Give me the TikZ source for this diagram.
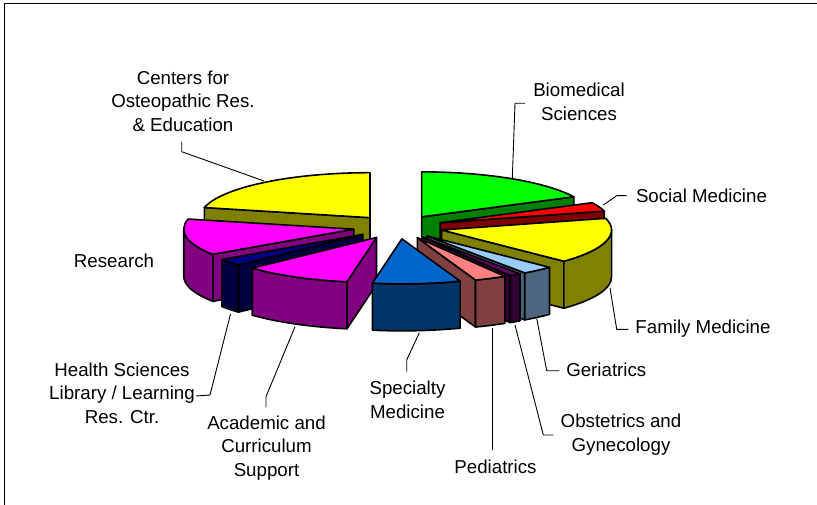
\documentclass[tikz,border=0pt]{standalone}
\usepackage{fontspec}
\setmainfont{Liberation Sans}
\definecolor{bioT}{HTML}{00FF00}\definecolor{bioS}{HTML}{008000}
\definecolor{socT}{HTML}{FF0000}\definecolor{socS}{HTML}{800000}
\definecolor{famT}{HTML}{FFFF00}\definecolor{famS}{HTML}{808000}
\definecolor{gerT}{HTML}{99CCFF}\definecolor{gerS}{HTML}{4C6680}
\definecolor{obsT}{HTML}{660066}\definecolor{obsS}{HTML}{330033}
\definecolor{pedT}{HTML}{FF8080}\definecolor{pedS}{HTML}{804040}
\definecolor{speT}{HTML}{0066CC}\definecolor{speS}{HTML}{003366}
\definecolor{acaT}{HTML}{FF00FF}\definecolor{acaS}{HTML}{800080}
\definecolor{libT}{HTML}{000080}\definecolor{libS}{HTML}{000040}
\definecolor{resT}{HTML}{FF00FF}\definecolor{resS}{HTML}{800080}
\definecolor{cenT}{HTML}{FFFF00}\definecolor{cenS}{HTML}{808000}
\def\pieR{170}\def\pier{45}\def\pieh{47}\def\piee{45}
\def\piecx{398}\def\piecy{-227}
\newcommand\setslice[2]{%
  \pgfmathsetmacro\smid{(#1+#2)/2}%
  \pgfmathsetmacro\pox{\piecx+\piee*cos(\smid)}%
  \pgfmathsetmacro\poy{\piecy+\piee*\pier/\pieR*sin(\smid)}}
\newcommand\topface[3]{%
  \filldraw[face,fill=#3] (\pox,\poy) -- ({\pox+\pieR*cos(#1)},{\poy+\pier*sin(#1)})
    arc[start angle=#1,end angle=#2,x radius=\pieR,y radius=\pier] -- cycle;}
\newcommand\sideface[3]{%
  \filldraw[face,fill=#3] ({\pox+\pieR*cos(#1)},{\poy+\pier*sin(#1)})
    arc[start angle=#1,end angle=#2,x radius=\pieR,y radius=\pier] -- ++(0,-\pieh)
    arc[start angle=#2,end angle=#1,x radius=\pieR,y radius=\pier] -- cycle;}
\newcommand\cutface[2]{%
  \filldraw[face,fill=#2] (\pox,\poy) -- ({\pox+\pieR*cos(#1)},{\poy+\pier*sin(#1)})
    -- ++(0,-\pieh) -- ({\pox},{\poy-\pieh}) -- cycle;}
\begin{document}
\begin{tikzpicture}[x=1pt,y=1pt,line join=round,
  face/.style={draw=black,line width=1.6pt},
  lbl/.style={font=\fontsize{18.7}{23.5}\selectfont,align=center,inner sep=0pt},
  lead/.style={draw=black,line width=0.9pt}]
\useasboundingbox (0,0) rectangle (817,-505);
\fill[white] (0,0) rectangle (817,-505);
\draw[line width=1pt] (4,-505) -- (4,-3.5) -- (817,-3.5);
% slices, back to front
\setslice{26.5}{90}\cutface{26.5}{bioS}\topface{26.5}{90}{bioT}
\setslice{90}{167}\cutface{167}{cenS}\topface{90}{167}{cenT}
\setslice{15}{26.5}\cutface{15}{socS}\topface{15}{26.5}{socT}
\setslice{-193}{-146}\cutface{-146}{resS}\sideface{-180}{-146}{resS}\topface{-193}{-146}{resT}
\setslice{-44}{15}\cutface{-44}{famS}\sideface{-44}{0}{famS}\topface{-44}{15}{famT}
\setslice{-146}{-137}\cutface{-137}{libS}\sideface{-146}{-137}{libS}\topface{-146}{-137}{libT}
\setslice{-55}{-44}\cutface{-55}{gerS}\sideface{-55}{-44}{gerS}\topface{-55}{-44}{gerT}
\setslice{-59}{-55}\cutface{-59}{obsS}\sideface{-59}{-55}{obsS}\topface{-59}{-55}{obsT}
\setslice{-137}{-100}\cutface{-100}{acaS}\sideface{-137}{-100}{acaS}\topface{-137}{-100}{acaT}
\setslice{-70}{-59}\cutface{-70}{pedS}\sideface{-70}{-59}{pedS}\topface{-70}{-59}{pedT}
\setslice{-100}{-70}\sideface{-100}{-70}{speS}\topface{-100}{-70}{speT}
% labels
\node[lbl] (cen) at (183,-101) {Centers for\\Osteopathic Res.\\\& Education};
\node[lbl] (bio) at (579,-102) {Biomedical\\Sciences};
\node[lbl] (soc) at (701.5,-195.7) {Social Medicine};
\node[lbl] (fam) at (703,-328.3) {Family Medicine};
\node[lbl] (ger) at (606.3,-370) {Geriatrics};
\node[lbl] (obs) at (621,-434.7) {Obstetrics and\\Gynecology};
\node[lbl] (ped) at (495.5,-466.7) {Pediatrics};
\node[lbl] (spe) at (407.5,-400) {Specialty\\Medicine};
\node[lbl] (aca) at (266.5,-448) {Academic and\\Curriculum\\Support};
\node[lbl] (lib) at (122,-393) {Health Sciences\\Library / Learning\\Res. Ctr.};
\node[lbl] (res) at (114,-261) {Research};
% leader ends
\coordinate (cen1) at (181.7,-141.7); \coordinate (cen2) at (181.7,-151.7); \coordinate (cenE) at (264,-181);
\coordinate (bio1) at (525,-103.3); \coordinate (bio2) at (515,-103.3); \coordinate (bioE) at (512.3,-178.5);
\coordinate (soc1) at (626.7,-195.7); \coordinate (soc2) at (616.7,-195.7); \coordinate (socE) at (603.3,-205);
\coordinate (fam1) at (628.3,-329.3); \coordinate (fam2) at (616.7,-329.3); \coordinate (famE) at (610,-288);
\coordinate (ger1) at (559.3,-370.7); \coordinate (ger2) at (546.7,-370.7); \coordinate (gerE) at (536.7,-318.3);
\coordinate (obs1) at (553.3,-435); \coordinate (obs2) at (543.3,-435); \coordinate (obsE) at (515,-325);
\coordinate (ped1) at (492.5,-450); \coordinate (pedE) at (492.5,-328);
\coordinate (spe1) at (406.7,-371.7); \coordinate (spe2) at (406.7,-360); \coordinate (speE) at (419.3,-332.7);
\coordinate (aca1) at (266,-407.3); \coordinate (aca2) at (266,-396.7); \coordinate (acaE) at (295,-326.7);
\coordinate (lib1) at (196,-396); \coordinate (lib2) at (210,-395); \coordinate (libE) at (230.5,-314);
\draw[lead] (cen1) -- (cen2) -- (cenE);
\draw[lead] (bio1) -- (bio2) -- (bioE);
\draw[lead] (soc1) -- (soc2) -- (socE);
\draw[lead] (fam1) -- (fam2) -- (famE);
\draw[lead] (ger1) -- (ger2) -- (gerE);
\draw[lead] (obs1) -- (obs2) -- (obsE);
\draw[lead] (ped1) -- (pedE);
\draw[lead] (spe1) -- (spe2) -- (speE);
\draw[lead] (aca1) -- (aca2) -- (acaE);
\draw[lead] (lib1) -- (lib2) -- (libE);
\end{tikzpicture}
\end{document}
